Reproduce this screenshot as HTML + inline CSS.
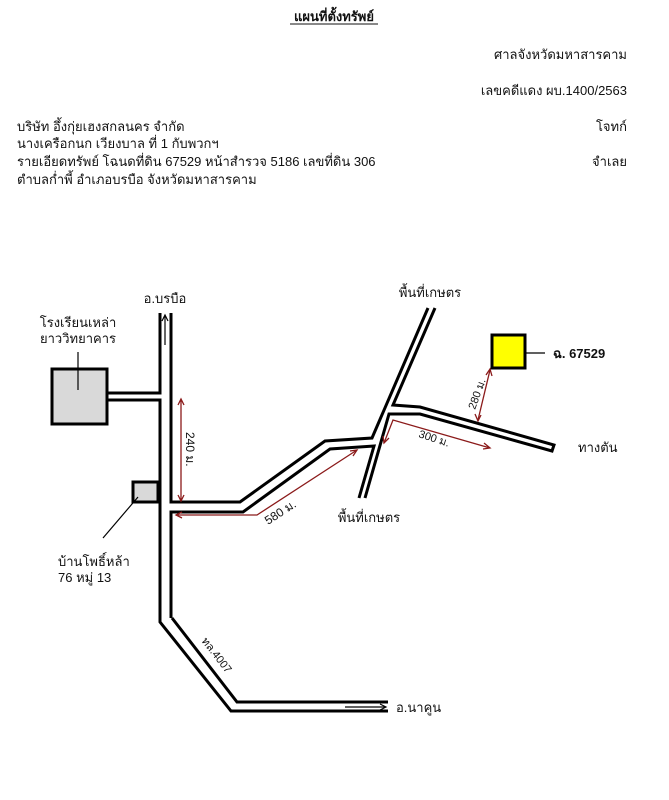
<!DOCTYPE html>
<html><head><meta charset="utf-8"><style>
body{margin:0;background:#fff;width:669px;height:800px;overflow:hidden}
svg{display:block}
text{font-family:"Liberation Sans","Noto Sans CJK SC",sans-serif;font-size:13px;fill:#111}
</style></head><body>
<svg width="669" height="800" viewBox="0 0 669 800">
<text x="334" y="21" text-anchor="middle" font-weight="bold" style="font-size:13px">แผนที่ตั้งทรัพย์</text>
<line x1="290" y1="24" x2="378" y2="24" stroke="#111" stroke-width="1"/>
<text x="627" y="59" text-anchor="end">ศาลจังหวัดมหาสารคาม</text>
<text x="627" y="95" text-anchor="end">เลขคดีแดง ผบ.1400/2563</text>
<text x="627" y="131" text-anchor="end">โจทก์</text>
<text x="627" y="166" text-anchor="end">จำเลย</text>
<text x="17" y="131">บริษัท อึ้งกุ่ยเฮงสกลนคร จำกัด</text>
<text x="17" y="148">นางเครือกนก  เวียงบาล  ที่ 1 กับพวกฯ</text>
<text x="17" y="166">รายเอียดทรัพย์ โฉนดที่ดิน 67529 หน้าสำรวจ 5186 เลขที่ดิน 306</text>
<text x="17" y="184">ตำบลก่ำพี้  อำเภอบรบือ  จังหวัดมหาสารคาม</text>

<g fill="none" stroke="#000" stroke-width="3" stroke-linejoin="miter">
<!-- main road -->
<polyline points="160,313 160,393 107,393"/>
<polyline points="107,400 160,400 160,622 231,711 388,711"/>
<polyline points="171,313 171,502 240,502 325,441 372,438 428,308"/>
<polyline points="171,618 171,512 243,512 330,449 374,446 359,498"/>
<polyline points="435,308 393,405 420,407 554,445 552,451 420,414 389,414 365,498"/>
<polyline points="172,618 237,702 388,702"/>
<!-- boxes -->
<rect x="52" y="369" width="55" height="55" fill="#d9d9d9"/>
<rect x="133" y="482" width="25" height="20" fill="#d9d9d9"/>
<rect x="492" y="335" width="33" height="33" fill="#ffff00"/>
</g>
<g stroke="#000" stroke-width="1.2" fill="none">
<line x1="78" y1="352" x2="78" y2="390"/>
<line x1="138" y1="497" x2="103" y2="538"/>
<line x1="525" y1="353" x2="545" y2="353"/>
<line x1="165" y1="345" x2="165" y2="316"/>
<polyline points="162,321 165,315 168,321"/>
<line x1="345" y1="707" x2="385" y2="707"/>
<polyline points="380,704 386,707 380,710"/>
</g>
<g stroke="#8b1a1a" stroke-width="1.3" fill="none">
<line x1="181" y1="400" x2="181" y2="500"/>
<polyline points="178,405 181,399 184,405"/><polyline points="178,495 181,501 184,495"/>
<polyline points="357,450 257,515 176,515"/>
<polyline points="182,512 176,515 182,518"/>
<polyline points="350,451 357,450 353,456"/>
<polyline points="384,443 393,420 490,448"/>
<polyline points="383,436 384,443 389,438"/><polyline points="484,443 490,448 483,449"/>
<line x1="478" y1="420" x2="490" y2="370"/>
<polyline points="486,375 490,369 492,376"/><polyline points="475,414 478,421 481,415"/>
</g>
<g fill="#8b1a1a"></g>
<text x="165" y="303" text-anchor="middle">อ.บรบือ</text>
<text x="78" y="327" text-anchor="middle">โรงเรียนเหล่า</text>
<text x="78" y="343" text-anchor="middle">ยาววิทยาคาร</text>
<text x="58" y="566">บ้านโพธิ์หล้า</text>
<text x="58" y="582">76 หมู่ 13</text>
<text x="430" y="297" text-anchor="middle">พื้นที่เกษตร</text>
<text x="369" y="522" text-anchor="middle">พื้นที่เกษตร</text>
<text x="578" y="452">ทางตัน</text>
<text x="396" y="712">อ.นาคูน</text>
<text x="553" y="358" font-weight="bold">ฉ. 67529</text>
<text transform="translate(186,432) rotate(90)" style="font-size:12px">240 ม.</text>
<text transform="translate(268,525) rotate(-33)" style="font-size:12px">580 ม.</text>
<text transform="translate(418,437) rotate(18)" style="font-size:11px">300 ม.</text>
<text transform="translate(475,410) rotate(-70)" style="font-size:11px">280 ม.</text>
<text transform="translate(201,641) rotate(52)" style="font-size:11px">ทล.4007</text>
</svg>
</body></html>
